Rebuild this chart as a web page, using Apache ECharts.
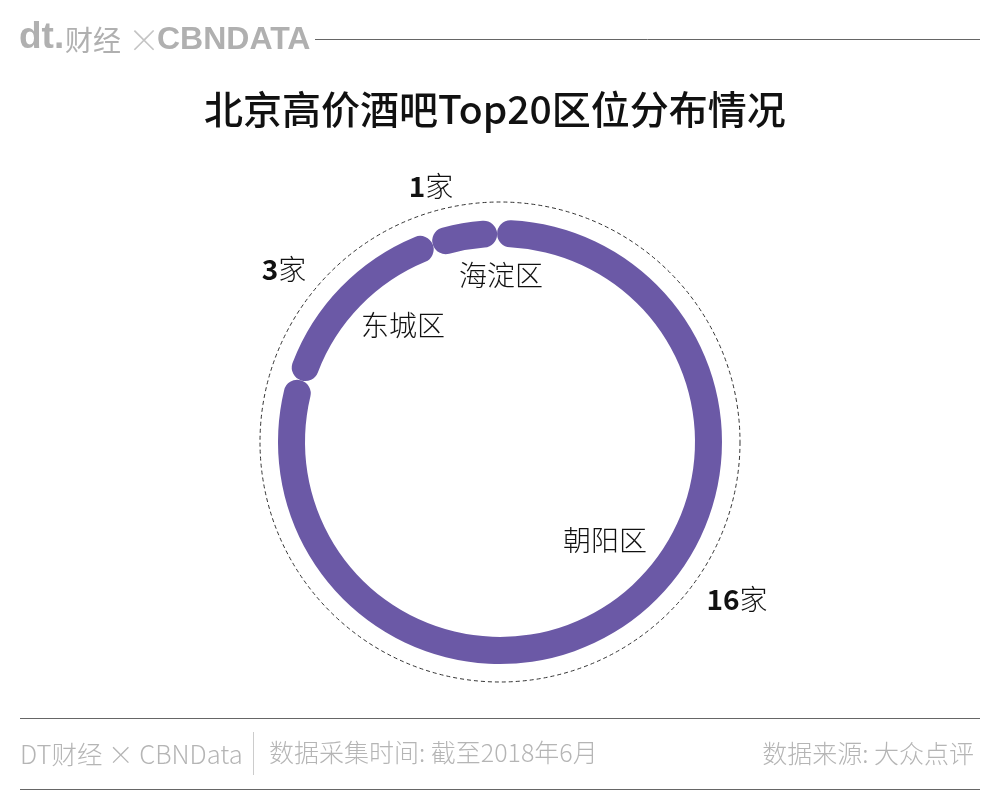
<!DOCTYPE html>
<html>
<head>
<meta charset="utf-8">
<style>
html, body { margin: 0; padding: 0; background: #fff; }
#chart { width: 1000px; height: 794px; }
</style>
<script src="https://cdn.jsdelivr.net/npm/echarts@6/dist/echarts.min.js"></script>
</head>
<body>
<div id="chart"></div>
<script>
var districts = ["朝阳区", "东城区", "海淀区"];
var barCounts = [16, 3, 1];
var unitText = "家";
var titleText = "北京高价酒吧Top20区位分布情况";
var footerLeft = "DT财经 × CBNData";
var footerTime = "数据采集时间: 截至2018年6月";
var footerSource = "数据来源: 大众点评";

var FONT = '"Noto Sans CJK SC", "Noto Sans", sans-serif';
var PURPLE = "#6b59a6";
var CENTER = [500, 442];

// label anchors, by dataIndex
var namePos = [[605, 540], [403, 325], [501, 275]];
var countPos = [[737, 599], [284, 269], [431, 186]];

var chartData = districts.map(function(name, i){
	return {name: name, value: barCounts[i]};
});

function layoutAt(pos){
	return function(params){
		var p = pos[params.dataIndex];
		return {x: p[0], y: p[1], align: "center", verticalAlign: "middle"};
	};
}

function line(x1, y1, x2, y2, color, w){
	return {
		type: "line",
		shape: {x1: x1, y1: y1, x2: x2, y2: y2},
		style: {stroke: color, lineWidth: w}
	};
}

function text(x, y, str, size, color, align, weight, family){
	return {
		type: "text",
		x: x,
		y: y,
		style: {
			text: str,
			fontSize: size,
			fontFamily: family || FONT,
			fontWeight: weight || 300,
			fill: color,
			align: align || "left",
			verticalAlign: "middle"
		}
	};
}

var chart = echarts.init(document.getElementById("chart"), null, {renderer: "canvas"});

chart.setOption({
	backgroundColor: "#fff",
	animation: false,
	title: {
		text: titleText,
		left: 199,
		top: 85,
		textStyle: {fontFamily: FONT, fontSize: 39, fontWeight: 500, color: "#111"}
	},
	series: [{
		type: "pie",
		center: CENTER,
		radius: [195, 222],
		startAngle: 90.8,
		clockwise: true,
		padAngle: 0,
		silent: true,
		itemStyle: {color: PURPLE, borderRadius: 14},
		label: {
			show: true,
			position: "outside",
			formatter: "{b}",
			fontFamily: FONT,
			fontSize: 28,
			fontWeight: 300,
			color: "#111"
		},
		labelLine: {show: false},
		labelLayout: layoutAt(namePos),
		data: chartData
	}, {
		// transparent copy, only carries the count labels
		type: "pie",
		center: CENTER,
		radius: [195, 222],
		startAngle: 90.8,
		silent: true,
		itemStyle: {color: "transparent"},
		label: {
			show: true,
			position: "outside",
			formatter: function(p){
				return "{n|" + p.value + "}{u|" + unitText + "}";
			},
			rich: {
				n: {fontFamily: FONT, fontSize: 28, fontWeight: 700, color: "#111"},
				u: {fontFamily: FONT, fontSize: 28, fontWeight: 300, color: "#111"}
			}
		},
		labelLine: {show: false},
		labelLayout: layoutAt(countPos),
		data: chartData
	}],
	graphic: [
		{
			type: "circle",
			shape: {cx: CENTER[0], cy: CENTER[1], r: 240},
			style: {fill: "none", stroke: "#333", lineWidth: 1, lineDash: [4, 3]}
		},
		text(19, 38, "dt.", 37, "#b0b0b0", "left", 900, '"Liberation Sans", sans-serif'),
		text(65, 40, "财经", 28, "#b0b0b0", "left", 400),
		text(128, 40, "×", 32, "#c4c4c4", "left", 300),
		text(157, 40, "CBNDATA", 32, "#b0b0b0", "left", 700, '"Liberation Sans", sans-serif'),
		line(315, 39.5, 980, 39.5, "#666", 1),
		line(20, 718.5, 980, 718.5, "#666", 1),
		line(20, 789.5, 980, 789.5, "#666", 1),
		line(253.5, 732, 253.5, 775, "#ccc", 1),
		text(20, 754, footerLeft, 25.5, "#b5b5b5"),
		text(269, 752, footerTime, 25, "#b5b5b5"),
		text(974, 753, footerSource, 25, "#b5b5b5", "right")
	]
});
</script>
</body>
</html>
